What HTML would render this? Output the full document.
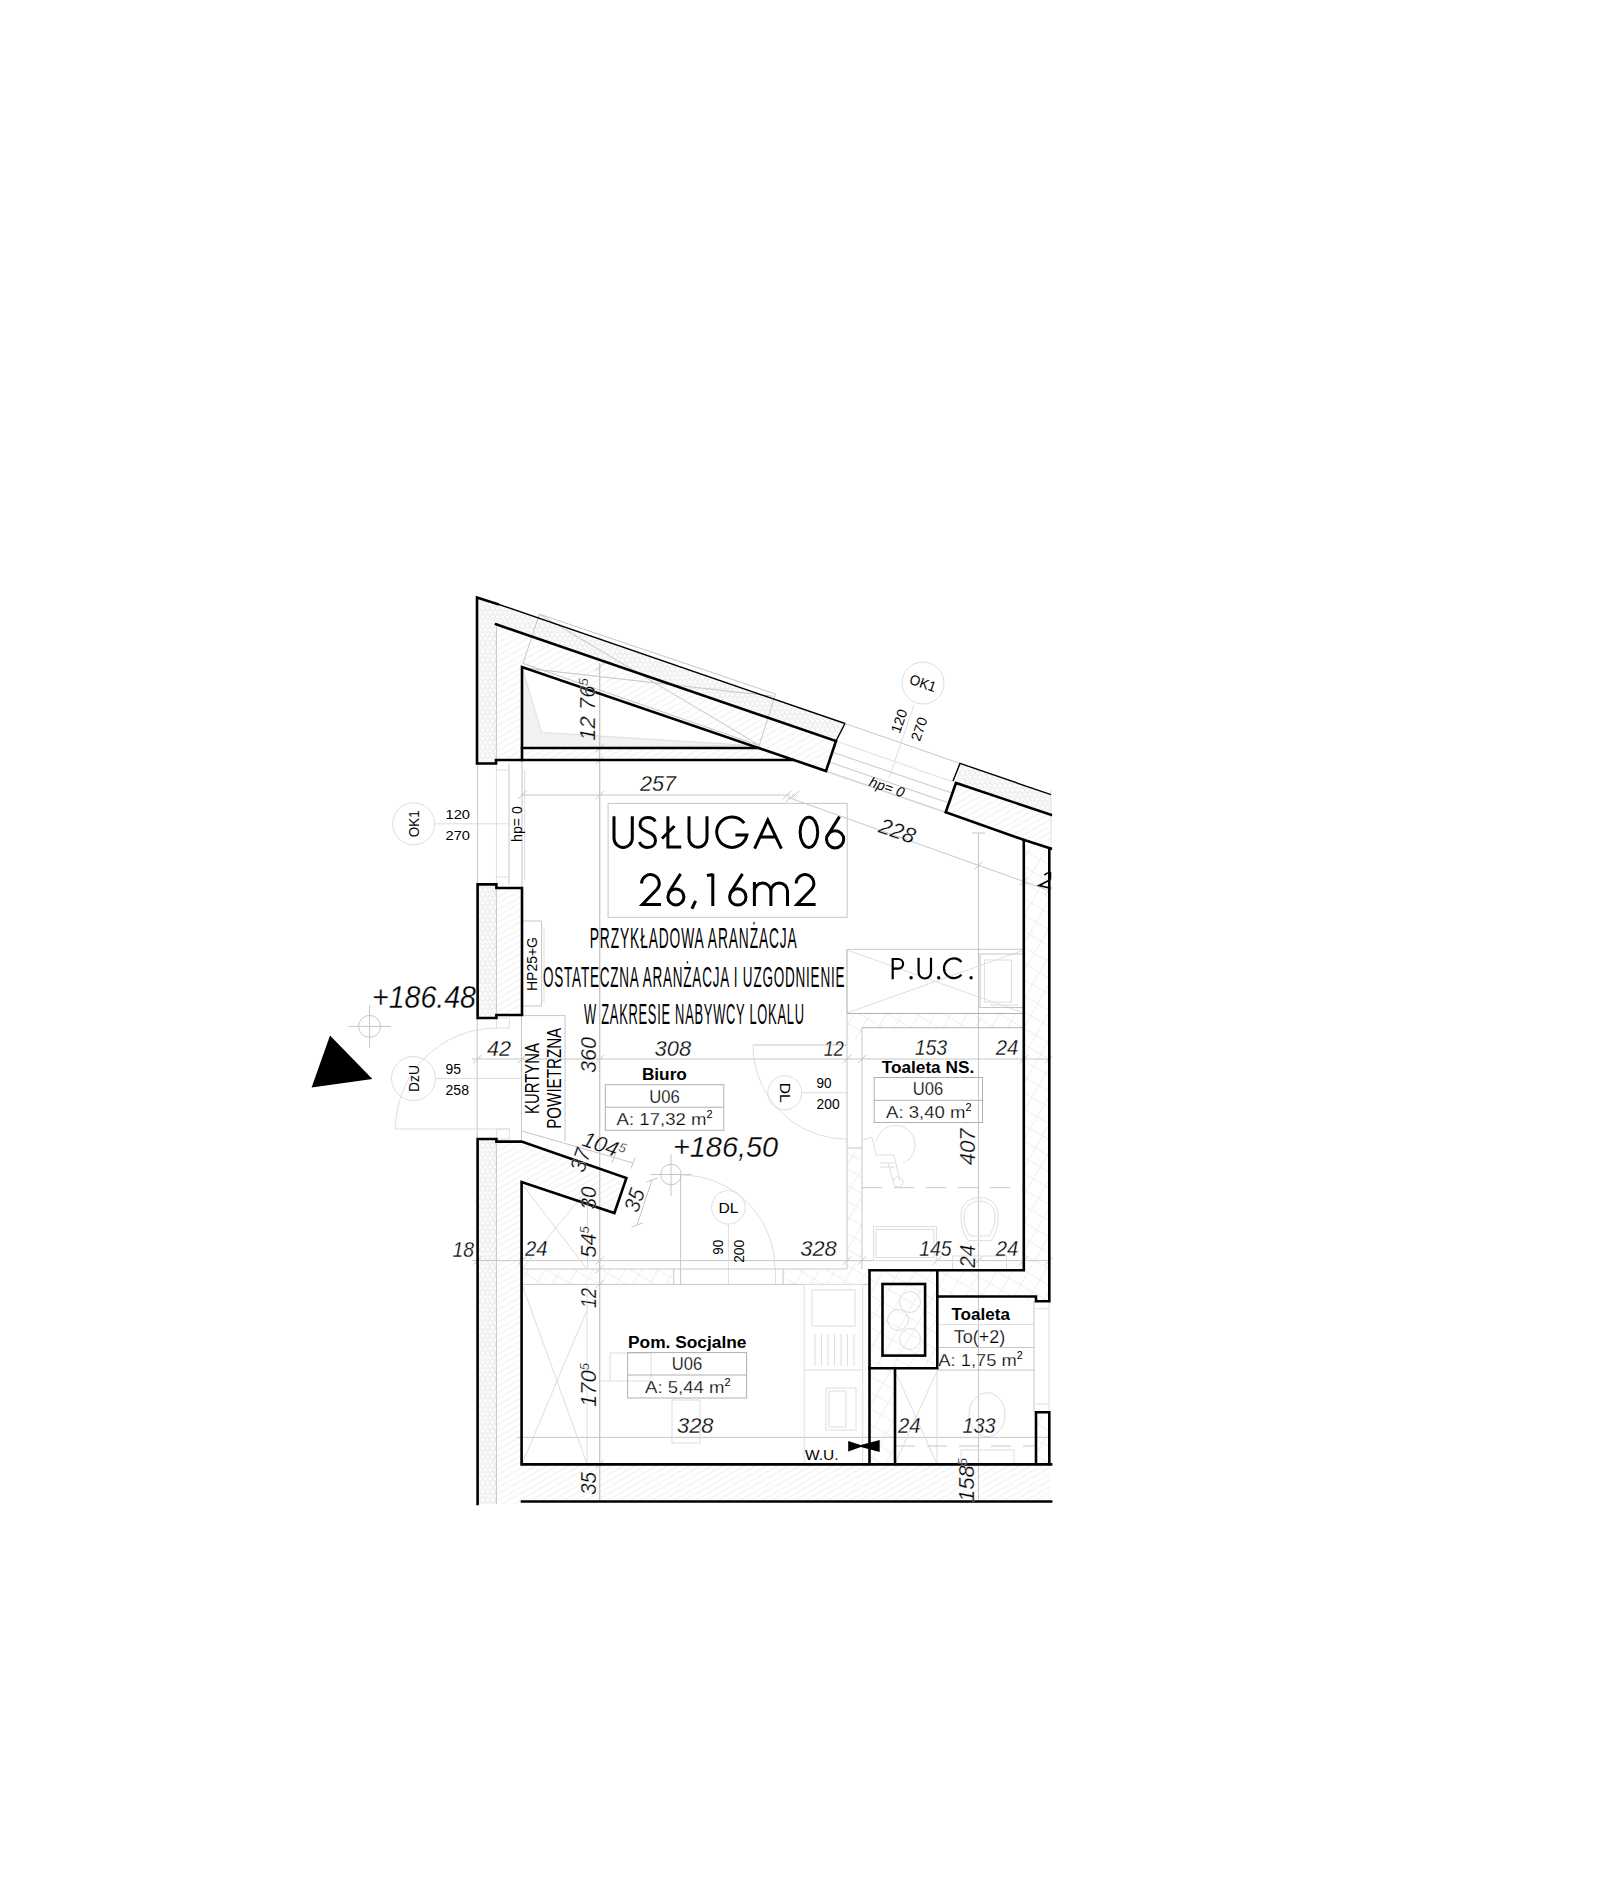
<!DOCTYPE html>
<html><head><meta charset="utf-8">
<style>
html,body{margin:0;padding:0;background:#fff;width:1600px;height:1896px;overflow:hidden}
svg{display:block}
text{font-family:"Liberation Sans",sans-serif;fill:#000}
.it{font-style:italic;stroke:#fff;stroke-width:0.3px}
.b{font-weight:bold}
.it2{font-style:italic}
.g{stroke:#c6c6c6;stroke-width:1;fill:none}
.gl{stroke:#dedede;stroke-width:1;fill:none}
.gd{stroke:#b0b0b0;stroke-width:1;fill:none}
.k{stroke:#000;stroke-width:2.6;fill:none;stroke-linejoin:miter;stroke-linecap:square}
.kt{stroke:#000;stroke-width:1.4;fill:none}
.kf{fill:#000;stroke:none}
.kt2{stroke:#000;stroke-width:1.7;fill:none}
.gdash{stroke:#c6c6c6;stroke-width:1;fill:none;stroke-dasharray:20 12}
.thin{stroke:#fff;stroke-width:1.3px}
.thin2{stroke:#fff;stroke-width:0.9px}
.thin3{stroke:#fff;stroke-width:0.25px}
.thin3 tspan{stroke:none}
</style></head><body>
<svg width="1600" height="1896" viewBox="0 0 1600 1896">
<defs>
<pattern id="ins" width="5" height="8.66" patternUnits="userSpaceOnUse">
<circle cx="2.5" cy="2.17" r="2.1" fill="none" stroke="#e8e8e8" stroke-width="0.9"/>
<circle cx="0" cy="6.5" r="2.1" fill="none" stroke="#e8e8e8" stroke-width="0.9"/>
<circle cx="5" cy="6.5" r="2.1" fill="none" stroke="#e8e8e8" stroke-width="0.9"/>
</pattern>
<pattern id="hat" width="12" height="5.5" patternUnits="userSpaceOnUse" patternTransform="rotate(-30)">
<line x1="0" y1="2.75" x2="12" y2="2.75" stroke="#eeeeee" stroke-width="1"/>
</pattern>
<pattern id="xh" width="14" height="14" patternUnits="userSpaceOnUse" patternTransform="rotate(30)">
<line x1="0" y1="0" x2="0" y2="14" stroke="#e2e2e2" stroke-width="1"/>
<line x1="0" y1="0" x2="14" y2="0" stroke="#e2e2e2" stroke-width="1"/>
</pattern>
<clipPath id="cl"><rect x="0" y="0" width="1052.5" height="1896"/></clipPath>
</defs>
<rect width="1600" height="1896" fill="#fff"/>
<g clip-path="url(#cl)">
<g id="fills">
<polygon points="477,597.5 845,723.5 836,741 496,624.3 496,763.5 477,763.5" fill="url(#ins)"/>
<polygon points="496,624.3 836,741 826,771 522,667 522,760 496,760" fill="url(#hat)"/>
<polygon points="522,748 759,748 793,760 522,760" fill="url(#hat)"/>
<polygon points="477.6,884.4 496.4,884.4 496.4,1018 477.6,1018" fill="url(#ins)"/>
<polygon points="496.4,888 522,888 522,1015 496.4,1015" fill="url(#hat)"/>
<polygon points="477.6,1139 496.4,1139 496.4,1504 477.6,1504" fill="url(#ins)"/>
<polygon points="496.4,1141.6 521.6,1141.6 626.4,1178 614.4,1213 521.6,1182 521.6,1504 496.4,1504" fill="url(#hat)"/>
<polygon points="522,1464.4 1050,1464.4 1050,1501.5 522,1501.5" fill="url(#hat)"/>
<polygon points="960,763.4 1051,794.7 1051,814.8 956,783" fill="url(#ins)"/>
<polygon points="956,783 1051,814.8 1051,848.5 1023.5,839.7 945.7,812.2" fill="url(#hat)"/>
<polygon points="1023.8,840 1049.3,848.5 1049.3,1301 1023.8,1301" fill="url(#xh)"/>
<polygon points="869.5,1270.3 1023.8,1270.3 1023.8,1296.5 937.3,1296.5 937.3,1368 895,1368 895,1464 869.5,1464" fill="url(#xh)"/>
<polygon points="1036,1412.3 1049.3,1412.3 1049.3,1464 1036,1464" fill="url(#xh)"/>
<polygon points="847,1148 862,1148 862,1269 847,1269" fill="url(#xh)"/>
<polygon points="847,1013.5 1023.8,1013.5 1023.8,1027.7 862,1027.7 862,1040 847,1040" fill="url(#xh)"/>
<polygon points="522,1269 673.8,1269 673.8,1284.4 522,1284.4" fill="url(#xh)"/>
<polygon points="783,1269 869.5,1269 869.5,1284.4 783,1284.4" fill="url(#xh)"/>
</g>
<g id="gray">
<rect class="gl" x="610" y="1353" width="41" height="28"/>
<rect class="gl" x="672" y="1400" width="28" height="43"/>
<line class="gl" x1="600" y1="1381" x2="610" y2="1381"/>
<line class="g" x1="496.4" y1="624" x2="496.4" y2="760"/>
<line class="g" x1="496.4" y1="888" x2="496.4" y2="1015"/>
<line class="g" x1="496.4" y1="1141.6" x2="496.4" y2="1504"/>
<line class="gl" x1="587" y1="1284.4" x2="587" y2="1464"/>
<polygon class="gl" points="522,667 541.6,732.4 751.6,745.5 522,748" style="fill:#f2f2f2"/>
<polygon class="g" points="539.4,614.2 775.6,694 759.2,745.5 523,663.4"/>
<line class="g" x1="539.4" y1="614.2" x2="758" y2="744.4"/>
<line class="g" x1="521.9" y1="667.8" x2="773.5" y2="696.3"/>
<line class="g" x1="845" y1="723.5" x2="960" y2="763.4"/>
<line class="gl" x1="836" y1="741" x2="956" y2="783"/>
<line class="g" x1="832" y1="752" x2="952" y2="793"/>
<line class="g" x1="829" y1="762" x2="949" y2="803"/>
<line class="g" x1="826" y1="771" x2="945.7" y2="812.2"/>
<line class="gl" x1="827" y1="772" x2="946" y2="813"/>
<circle class="gl" cx="923" cy="683" r="21"/>
<line class="gl" x1="914" y1="705" x2="889" y2="778"/>
<line class="g" x1="477.6" y1="763.5" x2="477.6" y2="884.4"/>
<line class="gl" x1="496.4" y1="763.5" x2="496.4" y2="884.4"/>
<line class="g" x1="509" y1="763.5" x2="509" y2="884.4"/>
<line class="g" x1="522" y1="760" x2="522" y2="888"/>
<line class="gl" x1="524.7" y1="770" x2="524.7" y2="880"/>
<line class="gl" x1="496.4" y1="770" x2="509" y2="770"/>
<line class="gl" x1="496.4" y1="877" x2="509" y2="877"/>
<circle class="gl" cx="413.7" cy="823.8" r="21"/>
<line class="gl" x1="435" y1="823.8" x2="510" y2="823.8"/>
<polyline class="g" points="522,921 541.6,921 541.6,1006 522,1006"/>
<line class="gl" x1="544" y1="927" x2="544" y2="1002"/>
<line class="g" x1="477.2" y1="1018" x2="477.2" y2="1139"/>
<line class="g" x1="521.5" y1="1015" x2="521.5" y2="1141"/>
<rect class="gl" x="496.4" y="1018" width="13" height="10"/>
<rect class="gl" x="496.4" y="1129" width="13" height="10"/>
<path class="gl" d="M395.5,1129 A101,101 0 0 1 496.4,1028"/>
<line class="gl" x1="395.5" y1="1129" x2="509.5" y2="1129"/>
<circle class="gl" cx="413.5" cy="1078.5" r="22"/>
<line class="gl" x1="436" y1="1078.5" x2="522" y2="1078.5"/>
<polyline class="g" points="522,1015.6 565,1015.6 565,1141"/>
<circle class="g" cx="369.6" cy="1026.4" r="11"/>
<line class="g" x1="348.4" y1="1026.4" x2="391" y2="1026.4"/>
<line class="g" x1="369.6" y1="1005" x2="369.6" y2="1047.6"/>
<polygon class="kf" points="330,1035.6 311.6,1087.6 372.4,1079"/>
<line class="g" x1="599.7" y1="663" x2="599.7" y2="1500"/>
<line class="g" x1="522" y1="795" x2="790" y2="795"/>
<line class="g" x1="517.8" y1="799.2" x2="526.2" y2="790.8"/>
<line class="g" x1="595.5" y1="799.2" x2="603.9" y2="790.8"/>
<line class="g" x1="782.8" y1="799.2" x2="791.2" y2="790.8"/>
<line class="g" x1="790.8" y1="799.2" x2="799.2" y2="790.8"/>
<line class="g" x1="787" y1="797" x2="1049" y2="890.5"/>
<line class="g" x1="785.8" y1="802.2" x2="794.2" y2="793.8"/>
<line class="g" x1="974.3" y1="869.7" x2="982.7" y2="861.3"/>
<line class="g" x1="1019.6" y1="885.7" x2="1028.0" y2="877.3"/>
<line class="g" x1="1044.8" y1="894.7" x2="1053.2" y2="886.3"/>
<line class="g" x1="978.5" y1="833" x2="978.5" y2="1500"/>
<line class="g" x1="972" y1="833" x2="985" y2="833"/>
<line class="g" x1="472" y1="1059" x2="1050" y2="1059"/>
<line class="g" x1="473.4" y1="1063.2" x2="481.8" y2="1054.8"/>
<line class="g" x1="517.8" y1="1063.2" x2="526.2" y2="1054.8"/>
<line class="g" x1="595.5" y1="1063.2" x2="603.9" y2="1054.8"/>
<line class="g" x1="842.8" y1="1063.2" x2="851.2" y2="1054.8"/>
<line class="g" x1="857.8" y1="1063.2" x2="866.2" y2="1054.8"/>
<line class="g" x1="1019.6" y1="1063.2" x2="1028.0" y2="1054.8"/>
<line class="g" x1="1045.1" y1="1063.2" x2="1053.5" y2="1054.8"/>
<line class="g" x1="472" y1="1260.6" x2="1050" y2="1260.6"/>
<line class="g" x1="473.4" y1="1264.8" x2="481.8" y2="1256.4"/>
<line class="g" x1="517.8" y1="1264.8" x2="526.2" y2="1256.4"/>
<line class="g" x1="595.5" y1="1264.8" x2="603.9" y2="1256.4"/>
<line class="g" x1="842.8" y1="1264.8" x2="851.2" y2="1256.4"/>
<line class="g" x1="857.8" y1="1264.8" x2="866.2" y2="1256.4"/>
<line class="g" x1="1019.6" y1="1264.8" x2="1028.0" y2="1256.4"/>
<line class="g" x1="1045.1" y1="1264.8" x2="1053.5" y2="1256.4"/>
<line class="g" x1="932.8" y1="1264.8" x2="941.2" y2="1256.4"/>
<line class="g" x1="974.3" y1="1264.8" x2="982.7" y2="1256.4"/>
<line class="g" x1="517" y1="1437.4" x2="1050" y2="1437.4"/>
<line class="g" x1="599.7" y1="663" x2="599.7" y2="1500"/>
<line class="g" x1="595.5" y1="671.2" x2="603.9" y2="662.8"/>
<line class="g" x1="595.5" y1="752.2" x2="603.9" y2="743.8"/>
<line class="g" x1="595.5" y1="764.2" x2="603.9" y2="755.8"/>
<line class="g" x1="595.5" y1="1273.2" x2="603.9" y2="1264.8"/>
<line class="g" x1="595.5" y1="1288.2" x2="603.9" y2="1279.8"/>
<line class="g" x1="595.5" y1="1468.2" x2="603.9" y2="1459.8"/>
<rect class="g" x="608.1" y="803.4" width="239.1" height="113.9"/>
<polyline class="g" points="847,1013.5 847,949.3 1023.8,949.3"/>
<line class="gl" x1="847" y1="950" x2="1023.8" y2="1013"/>
<line class="gl" x1="847" y1="1013" x2="1023.8" y2="950"/>
<rect class="g" x="980" y="954" width="43.8" height="53.5"/>
<rect class="gl" x="984.5" y="960" width="27" height="42"/>
<line class="gl" x1="990" y1="1005" x2="1018" y2="1005"/>
<line class="gd" x1="847" y1="1013.5" x2="1023.8" y2="1013.5"/>
<line class="gd" x1="862" y1="1027.7" x2="1023.8" y2="1027.7"/>
<path class="gl" d="M753,1045 A94,94 0 0 0 847,1139"/>
<line class="g" x1="753" y1="1045" x2="847" y2="1045"/>
<circle class="gl" cx="784.8" cy="1092.8" r="17"/>
<line class="gl" x1="802" y1="1092.8" x2="847" y2="1092.8"/>
<line class="g" x1="847" y1="949.3" x2="847" y2="1269"/>
<line class="g" x1="862" y1="1027.7" x2="862" y2="1269"/>
<polyline class="g" points="847,1148 862,1148"/>
<circle class="g" cx="671" cy="1174.5" r="10.3"/>
<line class="g" x1="650" y1="1174.5" x2="691.6" y2="1174.5"/>
<line class="g" x1="671" y1="1154" x2="671" y2="1196"/>
<circle class="gl" cx="728.4" cy="1207.3" r="16.8"/>
<line class="gl" x1="728.4" y1="1224" x2="728.4" y2="1284"/>
<path class="gl" d="M681,1175 A94,94 0 0 1 775,1269"/>
<line class="g" x1="680.6" y1="1175" x2="680.6" y2="1284.4"/>
<line class="g" x1="673.8" y1="1269" x2="673.8" y2="1284.4"/>
<line class="gl" x1="775.5" y1="1269" x2="775.5" y2="1284.4"/>
<line class="g" x1="783" y1="1269" x2="783" y2="1284.4"/>
<line class="g" x1="522" y1="1269" x2="847" y2="1269"/>
<line class="g" x1="522" y1="1284.4" x2="869.5" y2="1284.4"/>
<line class="g" x1="522" y1="1131" x2="633" y2="1163"/>
<line class="g" x1="630.9" y1="1168.6" x2="635.1" y2="1157.4"/>
<line class="g" x1="611.9" y1="1163.1" x2="616.1" y2="1151.9"/>
<line class="gl" x1="522" y1="1184" x2="587" y2="1269"/>
<line class="gl" x1="522" y1="1269" x2="587" y2="1190"/>
<line class="gl" x1="587.5" y1="1205" x2="587.5" y2="1269"/>
<line class="g" x1="652" y1="1180" x2="637" y2="1225"/>
<line class="g" x1="646.4" y1="1182.1" x2="657.6" y2="1177.9"/>
<line class="g" x1="631.4" y1="1227.1" x2="642.6" y2="1222.9"/>
<path class="gl" d="M968.4,1240.6 C962,1232 961,1222 961,1215 C961,1204 969,1197.6 979.6,1197.6 C990,1197.6 998.2,1204 998.2,1215 C998.2,1222 997,1232 991.2,1240.6 Z"/>
<path class="gl" d="M970,1236 C965,1229 964,1222 964,1216 C964,1207 971,1201 979.6,1201 C988,1201 995,1207 995,1216 C995,1222 994,1229 989,1236 Z"/>
<rect class="gl" x="952.5" y="1256" width="54" height="14"/>
<rect class="gl" x="873.5" y="1226.7" width="63" height="33.8"/>
<rect class="gl" x="876" y="1229.5" width="58" height="28"/>
<line class="gdash" x1="862" y1="1187.7" x2="1023.8" y2="1187.7"/>
<path class="gl" d="M876.5,1141 A19.5,19.5 0 1 1 903,1163"/>
<path class="gl" d="M863,1140 L872,1137 L876,1155 L894,1155 L900,1181 M888,1163 L893,1181"/>
<path class="gl" d="M880,1163 H895 M880,1167 H895"/>
<circle class="gl" cx="898" cy="1182" r="5"/>
<rect class="gl" x="804.2" y="1284.5" width="58.5" height="179.5"/>
<rect class="gl" x="812" y="1290" width="43" height="36"/>
<line class="gl" x1="815.0" y1="1334" x2="815.0" y2="1366"/>
<line class="gl" x1="821.5" y1="1334" x2="821.5" y2="1366"/>
<line class="gl" x1="828.0" y1="1334" x2="828.0" y2="1366"/>
<line class="gl" x1="834.5" y1="1334" x2="834.5" y2="1366"/>
<line class="gl" x1="841.0" y1="1334" x2="841.0" y2="1366"/>
<line class="gl" x1="847.5" y1="1334" x2="847.5" y2="1366"/>
<line class="gl" x1="854.0" y1="1334" x2="854.0" y2="1366"/>
<rect class="gl" x="826" y="1388" width="30" height="42"/>
<rect class="gl" x="829" y="1391" width="17" height="36"/>
<line class="gl" x1="804.2" y1="1370" x2="862.7" y2="1370"/>
<line class="gl" x1="522" y1="1284.4" x2="587" y2="1464"/>
<line class="gl" x1="587" y1="1310" x2="522" y2="1464"/>
<circle class="gl" cx="910" cy="1302" r="10.5"/>
<circle class="gl" cx="898" cy="1319.8" r="10.5"/>
<circle class="gl" cx="910" cy="1339" r="10.5"/>
<line class="gl" x1="937.3" y1="1324.6" x2="1034" y2="1324.6"/>
<line class="g" x1="937.3" y1="1347.5" x2="1034" y2="1347.5"/>
<line class="g" x1="937.3" y1="1370.1" x2="1034" y2="1370.1"/>
<line class="g" x1="1034" y1="1301" x2="1034" y2="1412"/>
<line class="gl" x1="1049" y1="1301" x2="1049" y2="1412"/>
<line class="gl" x1="1036" y1="1308.7" x2="1049" y2="1308.7"/>
<line class="gl" x1="1036" y1="1404" x2="1049" y2="1404"/>
<ellipse class="gl" cx="987" cy="1414.7" rx="18" ry="22"/>
<rect class="gl" x="961" y="1450" width="53" height="14"/>
<line class="gl" x1="895" y1="1371" x2="937" y2="1464"/>
<line class="gl" x1="937" y1="1371" x2="895" y2="1464"/>
<line class="gl" x1="937" y1="1370" x2="937" y2="1464"/>
<line class="gdash" x1="895" y1="1446" x2="1036" y2="1446"/>
<polygon class="kf" points="848.2,1440.9 848.2,1451.5 863.7,1446"/>
<polygon class="kf" points="857,1446 879.7,1439.9 879.7,1451.9"/>
<line class="gl" x1="1051" y1="790" x2="1051" y2="850"/>
</g>
<g id="walls">
<polyline class="k" points="497.5,604 477,597.5 477,763.5 496,763.5 496,760 793,760"/>
<line class="kt" x1="497.5" y1="604" x2="845" y2="723.5"/>
<line class="kt" x1="845" y1="723.5" x2="836" y2="741"/>
<polyline class="k" points="496,624.3 836,741 826,771 522,667 522,760"/>
<line class="k" x1="522" y1="748" x2="759" y2="748"/>
<polygon class="k" points="477.6,884.4 496.4,884.4 496.4,888 522,888 522,1015 496.4,1015 496.4,1018 477.6,1018"/>
<polyline class="k" points="477.6,1504 477.6,1139 496.4,1139 496.4,1141.6 521.6,1141.6 626.4,1178 614.4,1213 521.6,1182 521.6,1464.4 1051.5,1464.4"/>
<line class="k" x1="522" y1="1501.5" x2="1051.5" y2="1501.5"/>
<polyline class="kt" points="1051,794.7 960,763.4 953,781"/>
<polyline class="k" points="1051,814.8 956,783 945.7,812.2 1023.5,839.7 1051,848.5"/>
<polyline class="k" points="1023.8,840 1023.8,1270.3 869.5,1270.3 869.5,1464"/>
<polyline class="k" points="1049.3,848.5 1049.3,1301.2 1036,1301.2 1036,1296.5 937.3,1296.5"/>
<polyline class="k" points="937.3,1270.3 937.3,1368.2 869.5,1368.2"/>
<rect class="k" x="882.5" y="1284" width="42.6" height="71.6"/>
<line class="k" x1="895" y1="1368.2" x2="895" y2="1464"/>
<polyline class="k" points="1036,1464 1036,1412.3 1049.3,1412.3 1049.3,1464"/>
</g>
<g id="text">
<g fill="none" stroke="#000" stroke-width="3" stroke-linejoin="miter" stroke-linecap="butt">
<path class="x" d="M614,816.3 V838.3 A9.15,9.15 0 0 0 632.3,838.3 V816.3"/>
<path class="x" d="M655.2,821.5 C654,818.5 651,817.5 647.8,817.5 C643,817.5 640,820.5 640,824.5 C640,829 644.5,830.5 648,832 C652,833.5 655.5,836 655.5,840.5 C655.5,845 652,847.5 647.5,847.5 C643.5,847.5 640.5,845 639.5,842"/>
<path class="x" d="M667.9,816.3 V847 H681.2 M662,838.5 L674.5,826"/>
<path class="x" d="M689,816.3 V838.3 A9,9 0 0 0 707,838.3 V816.3"/>
<path class="x" d="M744.2,823.2 A15.2,15.2 0 1 0 746.86,835 H735.4"/>
<path class="x" d="M754.6,848.6 L767.8,820 L781.4,848.6 M759.9,837 H774.5"/>
<ellipse class="x" cx="808.9" cy="832.3" rx="8.8" ry="15.1"/>
<circle class="x" cx="835.1" cy="839.3" r="8.6"/>
<path class="x" d="M839.5,816.6 L827,836.5"/>
<path class="x" d="M641.6,883.4 A8.8,8.8 0 1 1 657,889.2 L642.3,904.4 H661"/>
<circle class="x" cx="675.9" cy="896.9" r="8.0"/>
<path class="x" d="M680.6,873.9 L668.5,893"/>
<path class="x" d="M695.6,900.9 L691.9,908.75"/>
<path class="x" d="M706.9,875.5 L712.8,874.5 M712.8,873.8 V905.9"/>
<circle class="x" cx="737.8" cy="896.9" r="8.2"/>
<path class="x" d="M742.5,873.9 L730.3,893"/>
<path class="x" d="M754.4,881.9 V905.9 M754.4,891.3 A8.25,8.25 0 0 1 770.9,891.3 V905.9 M770.9,891.3 A8.3,8.3 0 0 1 787.5,891.3 V905.9"/>
<path class="x" d="M796.2,883.4 A8.8,8.8 0 1 1 811.6,889.2 L796.9,904.4 H815.6"/>
</g>
<text transform="translate(589.8,948.0) scale(0.46,1)" x="0" y="0" font-size="30.00" text-anchor="start" textLength="450.0" lengthAdjust="spacing">PRZYKŁADOWA ARANŻACJA</text>
<text transform="translate(543.0,986.5) scale(0.45,1)" x="0" y="0" font-size="30.00" text-anchor="start" textLength="670.0" lengthAdjust="spacing">OSTATECZNA ARANŻACJA I UZGODNIENIE</text>
<text transform="translate(584.0,1024.0) scale(0.43,1)" x="0" y="0" font-size="30.00" text-anchor="start" textLength="511.6" lengthAdjust="spacing">W ZAKRESIE NABYWCY LOKALU</text>
<g fill="none" stroke="#000" stroke-width="2.2">
<path class="x" d="M892.7,979.3 V959 H898.3 A4.8,4.8 0 0 1 898.3,968.6 H892.7"/>
<path class="x" d="M918.6,957.8 V972.3 A6.2,6.2 0 0 0 931,972.3 V957.8"/>
<path class="x" d="M961.48,961.94 A9.9,9.9 0 1 0 961.48,974.66"/>
</g>
<circle cx="911.1" cy="977.8" r="1.7" fill="#000"/><circle cx="938.7" cy="977.8" r="1.7" fill="#000"/><circle cx="971.1" cy="977.8" r="1.7" fill="#000"/>
<text x="372.0" y="1008.2" font-size="30.50" text-anchor="start" textLength="104.0" lengthAdjust="spacingAndGlyphs" class="it">+186.48</text>
<text x="673.0" y="1157.0" font-size="30.00" text-anchor="start" textLength="105.0" lengthAdjust="spacingAndGlyphs" class="it">+186,50</text>
<text x="445.5" y="818.7" font-size="13.60" text-anchor="start" textLength="24.5" lengthAdjust="spacingAndGlyphs">120</text>
<text x="445.5" y="839.7" font-size="13.60" text-anchor="start" textLength="24.5" lengthAdjust="spacingAndGlyphs">270</text>
<text transform="translate(413.7,823.8) rotate(-90)" x="0" y="5.2" font-size="14.50" text-anchor="middle" textLength="27.0" lengthAdjust="spacingAndGlyphs">OK1</text>
<text transform="translate(516.8,824.0) rotate(-90)" x="0" y="5.0" font-size="14.00" text-anchor="middle" textLength="36.0" lengthAdjust="spacingAndGlyphs">hp= 0</text>
<text transform="translate(414.0,1078.5) rotate(-90)" x="0" y="5.4" font-size="15.00" text-anchor="middle" textLength="27.0" lengthAdjust="spacingAndGlyphs">DzU</text>
<text x="445.5" y="1073.5" font-size="14.00" text-anchor="start" textLength="15.5" lengthAdjust="spacingAndGlyphs">95</text>
<text x="445.5" y="1094.5" font-size="14.00" text-anchor="start" textLength="23.5" lengthAdjust="spacingAndGlyphs">258</text>
<text x="487.0" y="1056.0" font-size="22.30" text-anchor="start" textLength="24.0" lengthAdjust="spacingAndGlyphs" class="it">42</text>
<text transform="translate(532.0,964.0) rotate(-90)" x="0" y="5.4" font-size="15.00" text-anchor="middle" textLength="54.0" lengthAdjust="spacingAndGlyphs">HP25+G</text>
<text transform="translate(532.4,1078.5) rotate(-90)" x="0" y="7.0" font-size="19.50" text-anchor="middle" textLength="71.0" lengthAdjust="spacingAndGlyphs">KURTYNA</text>
<text transform="translate(554.0,1078.3) rotate(-90)" x="0" y="7.0" font-size="19.50" text-anchor="middle" textLength="101.0" lengthAdjust="spacingAndGlyphs">POWIETRZNA</text>
<text transform="translate(588.0,1055.0) rotate(-90)" x="0" y="7.9" font-size="22.00" text-anchor="middle" textLength="36.0" lengthAdjust="spacingAndGlyphs" class="it">360</text>
<text transform="translate(587.5,709.5) rotate(-90)" x="0" y="7.9" font-size="22.00" text-anchor="middle" class="it">12 76<tspan font-size="13" dy="-7">5</tspan></text>
<text transform="translate(923.0,683.0) rotate(19)" x="0" y="5.2" font-size="14.50" text-anchor="middle" textLength="27.0" lengthAdjust="spacingAndGlyphs">OK1</text>
<text transform="translate(899.0,721.0) rotate(-71)" x="0" y="5.0" font-size="14.00" text-anchor="middle" textLength="24.0" lengthAdjust="spacingAndGlyphs">120</text>
<text transform="translate(919.0,729.0) rotate(-71)" x="0" y="5.0" font-size="14.00" text-anchor="middle" textLength="24.0" lengthAdjust="spacingAndGlyphs">270</text>
<text transform="translate(887.0,787.0) rotate(19)" x="0" y="5.0" font-size="14.00" text-anchor="middle" textLength="36.0" lengthAdjust="spacingAndGlyphs" class="it2">hp= 0</text>
<text x="640.0" y="791.0" font-size="22.00" text-anchor="start" textLength="36.0" lengthAdjust="spacingAndGlyphs" class="it">257</text>
<text transform="translate(897.5,830.5) rotate(19)" x="0" y="7.9" font-size="22.00" text-anchor="middle" textLength="37.0" lengthAdjust="spacingAndGlyphs" class="it">228</text>
<path class="kt2" d="M1044.4,875.3 Q1046.5,872.3 1050.4,872.8 L1050.4,879.4"/>
<path class="kt2" d="M1050.4,879.7 L1039,885.4 L1050.4,888.3"/>
<text x="654.6" y="1055.6" font-size="21.80" text-anchor="start" textLength="36.5" lengthAdjust="spacingAndGlyphs" class="it">308</text>
<text x="823.8" y="1055.6" font-size="21.80" text-anchor="start" textLength="20.0" lengthAdjust="spacingAndGlyphs" class="it">12</text>
<text x="914.7" y="1054.7" font-size="21.80" text-anchor="start" textLength="32.5" lengthAdjust="spacingAndGlyphs" class="it">153</text>
<text x="995.7" y="1054.7" font-size="21.80" text-anchor="start" textLength="22.5" lengthAdjust="spacingAndGlyphs" class="it">24</text>
<text x="641.9" y="1079.6" font-size="15.60" text-anchor="start" textLength="45.0" lengthAdjust="spacingAndGlyphs" class="b">Biuro</text>
<rect class="gd" x="605.3" y="1084.7" width="118.5" height="45.6"/>
<line class="gd" x1="605.3" y1="1107.2" x2="723.8" y2="1107.2"/>
<text x="664.4" y="1102.5" font-size="19.00" text-anchor="middle" textLength="30.5" lengthAdjust="spacingAndGlyphs" class="thin3">U06</text>
<text x="616.6" y="1125.0" font-size="17.00" text-anchor="start" textLength="96.0" lengthAdjust="spacingAndGlyphs" class="thin3">A: 17,32 m<tspan font-size="10" dy="-7">2</tspan></text>
<text transform="translate(784.8,1092.8) rotate(90)" x="0" y="5.2" font-size="14.50" text-anchor="middle" textLength="20.0" lengthAdjust="spacingAndGlyphs">DL</text>
<text x="816.6" y="1087.5" font-size="13.80" text-anchor="start" textLength="15.0" lengthAdjust="spacingAndGlyphs">90</text>
<text x="816.6" y="1109.0" font-size="13.80" text-anchor="start" textLength="23.0" lengthAdjust="spacingAndGlyphs">200</text>
<text x="881.7" y="1072.7" font-size="16.30" text-anchor="start" textLength="92.5" lengthAdjust="spacingAndGlyphs" class="b">Toaleta NS.</text>
<rect class="gd" x="874.2" y="1077.5" width="108.3" height="45"/>
<line class="gd" x1="874.2" y1="1100.3" x2="982.5" y2="1100.3"/>
<text x="928.0" y="1094.7" font-size="19.00" text-anchor="middle" textLength="30.5" lengthAdjust="spacingAndGlyphs" class="thin3">U06</text>
<text x="886.0" y="1118.0" font-size="17.00" text-anchor="start" textLength="85.5" lengthAdjust="spacingAndGlyphs" class="thin3">A: 3,40 m<tspan font-size="10" dy="-7">2</tspan></text>
<text transform="translate(967.2,1146.8) rotate(-90)" x="0" y="7.9" font-size="22.00" text-anchor="middle" textLength="37.0" lengthAdjust="spacingAndGlyphs" class="it">407</text>
<text transform="translate(604.0,1145.0) rotate(19)" x="0" y="7.9" font-size="22.00" text-anchor="middle" class="it">104<tspan font-size="13" dy="-7">5</tspan></text>
<text transform="translate(580.0,1160.0) rotate(-71)" x="0" y="7.9" font-size="22.00" text-anchor="middle" textLength="23.0" lengthAdjust="spacingAndGlyphs" class="it">37</text>
<text transform="translate(588.0,1198.0) rotate(-90)" x="0" y="7.9" font-size="22.00" text-anchor="middle" textLength="23.0" lengthAdjust="spacingAndGlyphs" class="it">30</text>
<text transform="translate(634.0,1200.0) rotate(-71)" x="0" y="7.9" font-size="22.00" text-anchor="middle" textLength="23.0" lengthAdjust="spacingAndGlyphs" class="it">35</text>
<text transform="translate(728.4,1207.3) rotate(0)" x="0" y="5.2" font-size="14.50" text-anchor="middle" textLength="20.0" lengthAdjust="spacingAndGlyphs">DL</text>
<text transform="translate(717.8,1247.3) rotate(-90)" x="0" y="4.9" font-size="13.80" text-anchor="middle" textLength="15.0" lengthAdjust="spacingAndGlyphs">90</text>
<text transform="translate(738.7,1251.3) rotate(-90)" x="0" y="4.9" font-size="13.80" text-anchor="middle" textLength="23.0" lengthAdjust="spacingAndGlyphs">200</text>
<text x="452.5" y="1256.9" font-size="22.50" text-anchor="start" textLength="21.5" lengthAdjust="spacingAndGlyphs" class="it">18</text>
<text x="525.0" y="1256.0" font-size="22.00" text-anchor="start" textLength="22.5" lengthAdjust="spacingAndGlyphs" class="it">24</text>
<text transform="translate(588.0,1242.0) rotate(-90)" x="0" y="7.9" font-size="22.00" text-anchor="middle" class="it">54<tspan font-size="13" dy="-7">5</tspan></text>
<text x="800.3" y="1256.2" font-size="22.00" text-anchor="start" textLength="36.5" lengthAdjust="spacingAndGlyphs" class="it">328</text>
<text x="919.2" y="1256.0" font-size="22.00" text-anchor="start" textLength="32.5" lengthAdjust="spacingAndGlyphs" class="it">145</text>
<text transform="translate(967.2,1256.3) rotate(-90)" x="0" y="7.9" font-size="22.00" text-anchor="middle" textLength="23.0" lengthAdjust="spacingAndGlyphs" class="it">24</text>
<text x="995.7" y="1256.0" font-size="22.00" text-anchor="start" textLength="22.5" lengthAdjust="spacingAndGlyphs" class="it">24</text>
<text transform="translate(588.0,1298.0) rotate(-90)" x="0" y="7.9" font-size="22.00" text-anchor="middle" textLength="20.0" lengthAdjust="spacingAndGlyphs" class="it">12</text>
<text transform="translate(588.0,1385.0) rotate(-90)" x="0" y="7.9" font-size="22.00" text-anchor="middle" class="it">170<tspan font-size="13" dy="-7">5</tspan></text>
<text transform="translate(588.0,1483.5) rotate(-90)" x="0" y="7.9" font-size="22.00" text-anchor="middle" textLength="23.0" lengthAdjust="spacingAndGlyphs" class="it">35</text>
<text x="628.0" y="1347.6" font-size="16.80" text-anchor="start" textLength="118.5" lengthAdjust="spacingAndGlyphs" class="b">Pom. Socjalne</text>
<rect class="gd" x="627.6" y="1352.6" width="119" height="45.4"/>
<line class="gd" x1="627.6" y1="1375" x2="746.6" y2="1375"/>
<text x="687.0" y="1370.0" font-size="19.00" text-anchor="middle" textLength="30.5" lengthAdjust="spacingAndGlyphs" class="thin3">U06</text>
<text x="645.0" y="1393.0" font-size="17.00" text-anchor="start" textLength="85.5" lengthAdjust="spacingAndGlyphs" class="thin3">A: 5,44 m<tspan font-size="10" dy="-7">2</tspan></text>
<text x="677.0" y="1433.0" font-size="22.00" text-anchor="start" textLength="36.5" lengthAdjust="spacingAndGlyphs" class="it">328</text>
<text x="951.4" y="1320.1" font-size="16.30" text-anchor="start" textLength="58.5" lengthAdjust="spacingAndGlyphs" class="b">Toaleta</text>
<text x="953.8" y="1342.6" font-size="18.00" text-anchor="start" textLength="51.5" lengthAdjust="spacingAndGlyphs" class="thin3">To(+2)</text>
<text x="938.3" y="1365.9" font-size="17.00" text-anchor="start" textLength="84.5" lengthAdjust="spacingAndGlyphs" class="thin3">A: 1,75 m<tspan font-size="10" dy="-7">2</tspan></text>
<text x="898.0" y="1433.1" font-size="22.00" text-anchor="start" textLength="22.5" lengthAdjust="spacingAndGlyphs" class="it">24</text>
<text x="962.5" y="1433.1" font-size="22.00" text-anchor="start" textLength="33.0" lengthAdjust="spacingAndGlyphs" class="it">133</text>
<text transform="translate(966.4,1480.0) rotate(-90)" x="0" y="7.9" font-size="22.00" text-anchor="middle" class="it">158<tspan font-size="13" dy="-7">5</tspan></text>
<text x="805.0" y="1459.6" font-size="15.50" text-anchor="start" textLength="33.5" lengthAdjust="spacingAndGlyphs">W.U.</text>
</g>
</g>
</svg>
</body></html>
